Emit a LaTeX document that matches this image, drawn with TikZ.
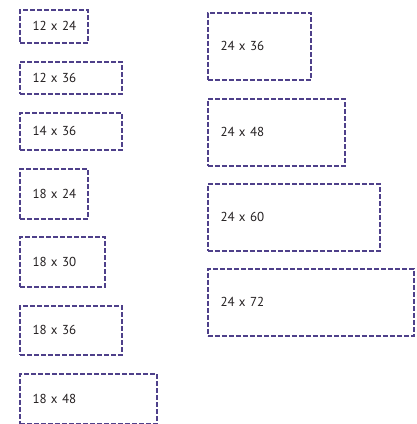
\documentclass[tikz,border=0pt]{standalone}
\usepackage{fontspec}
\setmainfont{PT Sans}
\usepackage{tikz}
\usetikzlibrary{positioning}

\definecolor{framepurple}{RGB}{78,64,138}
\definecolor{sizetext}{RGB}{35,31,32}

\tikzset{
  sizebox/.style={draw=framepurple, line width=1.6pt, dash pattern=on 4.8pt off 2.2pt,
    anchor=north west, inner xsep=12.7pt, inner ysep=0pt, align=left,
    text=sizetext, font=\fontsize{13}{15}\selectfont}
}

\begin{document}
\begin{tikzpicture}[x=1pt,y=-1pt]
  \useasboundingbox (0,0) rectangle (416,424);

  % left column
  \node[sizebox, text width=68pt-25.4pt, minimum height=33pt] (s12x24) at (19,9) {\mbox{12 x 24}};
  \node[sizebox, text width=102pt-25.4pt, minimum height=32pt] (s12x36) at (19,61) {\mbox{12 x 36}};
  \node[sizebox, text width=102pt-25.4pt, minimum height=37pt] (s14x36) at (19,112) {\mbox{14 x 36}};
  \node[sizebox, text width=68pt-25.4pt, minimum height=50pt] (s18x24) at (19,168) {\mbox{18 x 24}};
  \node[sizebox, text width=85pt-25.4pt, minimum height=50pt] (s18x30) at (19,236) {\mbox{18 x 30}};
  \node[sizebox, text width=102pt-25.4pt, minimum height=49pt] (s18x36) at (19,305) {\mbox{18 x 36}};
  \node[sizebox, text width=137pt-25.4pt, minimum height=50pt] (s18x48) at (19,373) {\mbox{18 x 48}};

  % right column
  \node[sizebox, text width=103pt-25.4pt, minimum height=67pt] (s24x36) at (207,12) {\mbox{24 x 36}};
  \node[sizebox, text width=137pt-25.4pt, minimum height=67pt] (s24x48) at (207,98) {\mbox{24 x 48}};
  \node[sizebox, text width=172pt-25.4pt, minimum height=67pt] (s24x60) at (207,183) {\mbox{24 x 60}};
  \node[sizebox, text width=206pt-25.4pt, minimum height=67pt] (s24x72) at (207,268) {\mbox{24 x 72}};
\end{tikzpicture}
\end{document}
